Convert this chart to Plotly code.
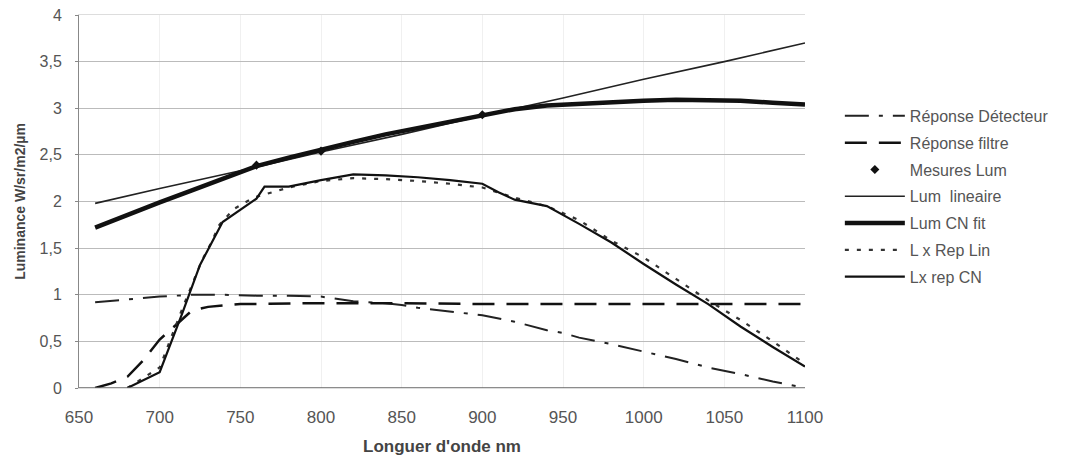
import plotly.graph_objects as go

# Wavelength grids and series
x_det = [660, 680, 700, 720, 740, 760, 780, 800, 820, 840, 850, 860, 880, 900, 920, 940, 950, 960, 980, 1000, 1020, 1040, 1060, 1080, 1100]
y_det = [0.92, 0.95, 0.98, 1.0, 1.0, 0.99, 0.99, 0.98, 0.93, 0.91, 0.89, 0.86, 0.82, 0.78, 0.71, 0.62, 0.59, 0.54, 0.47, 0.39, 0.31, 0.22, 0.15, 0.07, 0.0]

x_filt = [660, 670, 680, 690, 700, 710, 720, 730, 750, 800, 850, 900, 950, 1000, 1050, 1100]
y_filt = [0.0, 0.05, 0.12, 0.3, 0.52, 0.68, 0.83, 0.87, 0.9, 0.91, 0.91, 0.9, 0.9, 0.9, 0.9, 0.9]

x_mes = [760, 800, 900]
y_mes = [2.39, 2.54, 2.93]

x_lin = [660, 700, 750, 800, 850, 900, 950, 1000, 1050, 1100]
y_lin = [1.98, 2.14, 2.33, 2.53, 2.72, 2.92, 3.11, 3.31, 3.5, 3.7]

x_cn = [660, 680, 700, 720, 740, 760, 780, 800, 820, 840, 860, 880, 900, 920, 940, 960, 980, 1000, 1020, 1040, 1060, 1080, 1100]
y_cn = [1.72, 1.86, 1.99, 2.12, 2.25, 2.38, 2.47, 2.56, 2.64, 2.72, 2.79, 2.86, 2.93, 2.99, 3.03, 3.05, 3.07, 3.08, 3.09, 3.09, 3.08, 3.06, 3.04]

x_lxlin = [680, 700, 714, 721, 726, 732, 737, 746, 758, 780, 800, 820, 840, 860, 880, 900, 920, 940, 960, 980, 1000, 1020, 1040, 1060, 1080, 1100]
y_lxlin = [0.0, 0.22, 0.85, 1.14, 1.36, 1.56, 1.75, 1.92, 2.04, 2.15, 2.22, 2.25, 2.24, 2.22, 2.19, 2.15, 2.04, 1.95, 1.8, 1.58, 1.4, 1.17, 0.94, 0.73, 0.5, 0.26]

x_lxcn = [680, 700, 714, 725, 739, 760, 765, 780, 800, 820, 840, 860, 880, 900, 910, 920, 940, 960, 980, 1000, 1020, 1040, 1060, 1080, 1100]
y_lxcn = [0.0, 0.17, 0.8, 1.32, 1.78, 2.03, 2.16, 2.16, 2.23, 2.29, 2.28, 2.26, 2.23, 2.19, 2.1, 2.02, 1.95, 1.76, 1.56, 1.33, 1.11, 0.9, 0.66, 0.44, 0.23]

x_ticks = [650, 700, 750, 800, 850, 900, 950, 1000, 1050, 1100]
y_ticks = [0, 0.5, 1, 1.5, 2, 2.5, 3, 3.5, 4]
y_ticktext = ["0", "0,5", "1", "1,5", "2", "2,5", "3", "3,5", "4"]

fig = go.Figure()
fig.add_trace(go.Scatter(x=x_det, y=y_det, mode="lines", name="Réponse Détecteur",
                         line=dict(color="#222", width=2, dash="24px,10px,4px,10px"),
                         legendgroup="a", legendrank=1))
fig.add_trace(go.Scatter(x=x_filt, y=y_filt, mode="lines", name="Réponse filtre",
                         line=dict(color="#111", width=2.5, dash="22px,12px"),
                         legendgroup="b", legendrank=2))
fig.add_trace(go.Scatter(x=x_lin, y=y_lin, mode="lines", name="Lum  lineaire",
                         line=dict(color="#222", width=1.6), legendgroup="d", legendrank=4))
fig.add_trace(go.Scatter(x=x_cn, y=y_cn, mode="lines", name="Lum CN fit",
                         line=dict(color="#111", width=4.5), legendgroup="e", legendrank=5))
fig.add_trace(go.Scatter(x=x_lxlin, y=y_lxlin, mode="lines", name="L x Rep Lin",
                         line=dict(color="#333", width=2.2, dash="4px,8px"), legendgroup="f", legendrank=6))
fig.add_trace(go.Scatter(x=x_lxcn, y=y_lxcn, mode="lines", name="Lx rep CN",
                         line=dict(color="#111", width=2.2), legendgroup="g", legendrank=7))
fig.add_trace(go.Scatter(x=x_mes, y=y_mes, mode="markers", name="Mesures Lum",
                         marker=dict(symbol="diamond", size=7, color="#111"), legendgroup="c", legendrank=3))

fig.update_layout(
    width=1071, height=456,
    margin=dict(l=79, r=266, t=15, b=68, autoexpand=False),
    paper_bgcolor="white", plot_bgcolor="white",
    font=dict(family="Liberation Sans, Arial, sans-serif", color="#555", size=16),
    showlegend=True,
    legend=dict(x=1.048, xanchor="left", y=0.775, yanchor="top",
                traceorder="grouped", tracegroupgap=3, itemwidth=60,
                font=dict(size=16, color="#555"), bgcolor="rgba(0,0,0,0)"),
    xaxis=dict(range=[650, 1100], tickvals=x_ticks, ticktext=[str(v) for v in x_ticks],
               showgrid=True, gridcolor="#f0f0f0", zeroline=False, automargin=False,
               showline=True, linecolor="#ddd", mirror=True, ticks="", ticklabelstandoff=14,
               ticklabeloverflow="allow",
               title=dict(text="<b>Longuer d'onde nm</b>", font=dict(size=17, color="#444"), standoff=13),
               tickfont=dict(size=17, color="#555")),
    yaxis=dict(range=[0, 4], tickvals=y_ticks, ticktext=y_ticktext, automargin=False,
               showgrid=True, gridcolor="#bbbbbb", gridwidth=1, zeroline=False,
               showline=True, linecolor="#888", mirror=False, ticks="outside", ticklen=3, tickcolor="#888",
               ticklabelstandoff=10, ticklabeloverflow="allow",
               title=dict(text="<b>Luminance W/sr/m2/µm</b>", font=dict(size=14, color="#444"), standoff=10),
               tickfont=dict(size=16, color="#555")),
)
# bottom axis line at 0
fig.add_hline(y=0, line=dict(color="#666", width=1.5))

# remove the default page margin so the figure fills the 1071x456 window exactly
fig.write_html("out.html", config={"displayModeBar": False},
               post_script="document.body.style.margin='0';")
